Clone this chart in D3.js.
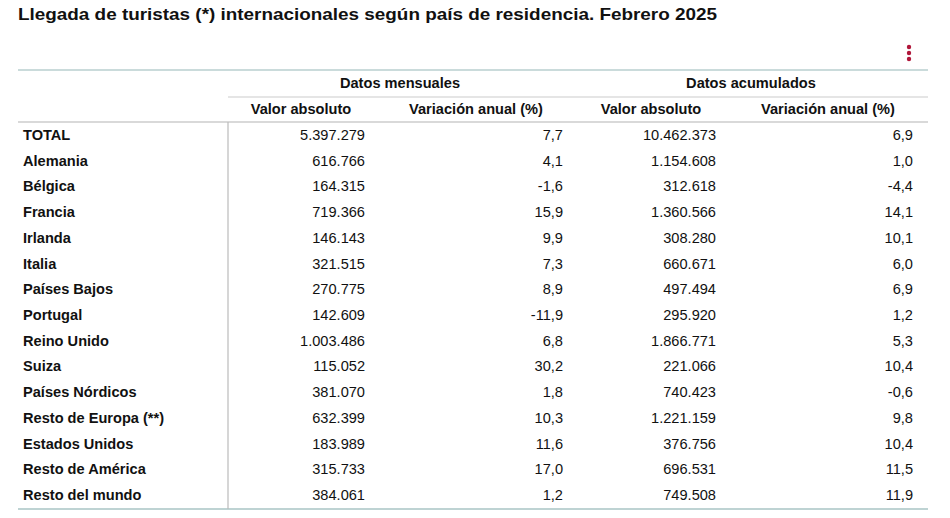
<!DOCTYPE html>
<html><head><meta charset="utf-8">
<script src="https://cdn.jsdelivr.net/npm/d3@7"></script>
<style>body{margin:0;background:#fff}text{font-family:"Liberation Sans",Arial,sans-serif;fill:#111}</style>
</head><body><svg id="c" width="950" height="518"></svg>
<script>
const countries=["TOTAL","Alemania","Bélgica","Francia","Irlanda","Italia","Países Bajos","Portugal","Reino Unido","Suiza","Países Nórdicos","Resto de Europa (**)","Estados Unidos","Resto de América","Resto del mundo"];
const mensualValor=["5.397.279","616.766","164.315","719.366","146.143","321.515","270.775","142.609","1.003.486","115.052","381.070","632.399","183.989","315.733","384.061"];
const mensualVar=["7,7","4,1","-1,6","15,9","9,9","7,3","8,9","-11,9","6,8","30,2","1,8","10,3","11,6","17,0","1,2"];
const acumValor=["10.462.373","1.154.608","312.618","1.360.566","308.280","660.671","497.494","295.920","1.866.771","221.066","740.423","1.221.159","376.756","696.531","749.508"];
const acumVar=["6,9","1,0","-4,4","14,1","10,1","6,0","6,9","1,2","5,3","10,4","-0,6","9,8","10,4","11,5","11,9"];
const groupHeaders=["Datos mensuales","Datos acumulados"];
const subHeaders=["Valor absoluto","Variación anual (%)","Valor absoluto","Variación anual (%)"];

const svg=d3.select("#c");
svg.append("text").attr("x",18).attr("y",20).attr("font-size",17).attr("font-weight","bold")
  .attr("textLength",699).attr("lengthAdjust","spacingAndGlyphs")
  .text("Llegada de turistas (*) internacionales según país de residencia. Febrero 2025");
[47,53,59].forEach(y=>svg.append("circle").attr("cx",909).attr("cy",y).attr("r",2.2).attr("fill","#b0163a"));

const y=d3.scalePoint().domain(countries).range([135,495]);
const L=18,R=928,split=228;
svg.append("line").attr("x1",L).attr("x2",R).attr("y1",70).attr("y2",70).attr("stroke","#b8cfcf").attr("stroke-width",1.5);
svg.append("line").attr("x1",split).attr("x2",R).attr("y1",97).attr("y2",97).attr("stroke","#ddd").attr("stroke-width",1.5);
svg.append("line").attr("x1",L).attr("x2",R).attr("y1",122).attr("y2",122).attr("stroke","#ccc").attr("stroke-width",1.5);
svg.append("line").attr("x1",L).attr("x2",R).attr("y1",509).attr("y2",509).attr("stroke","#a9c4c4").attr("stroke-width",1.5);
svg.append("line").attr("x1",split).attr("x2",split).attr("y1",122).attr("y2",509).attr("stroke","#bbb").attr("stroke-width",1.2);

const fs=14.6;
const gx=[400,751];
groupHeaders.forEach((h,i)=>svg.append("text").attr("x",gx[i]).attr("y",88).attr("text-anchor","middle").attr("font-size",fs).attr("font-weight","bold").text(h));
const sx=[301,476,651,828];
subHeaders.forEach((h,i)=>svg.append("text").attr("x",sx[i]).attr("y",114).attr("text-anchor","middle").attr("font-size",fs).attr("font-weight","bold").text(h));

const cols=[[mensualValor,365],[mensualVar,563],[acumValor,716],[acumVar,913]];
countries.forEach((c,i)=>{
  svg.append("text").attr("x",23).attr("y",y(c)+5).attr("font-size",fs).attr("font-weight","bold").text(c);
  cols.forEach(([arr,x])=>svg.append("text").attr("x",x).attr("y",y(c)+5).attr("text-anchor","end").attr("font-size",fs).text(arr[i]));
});
</script></body></html>
